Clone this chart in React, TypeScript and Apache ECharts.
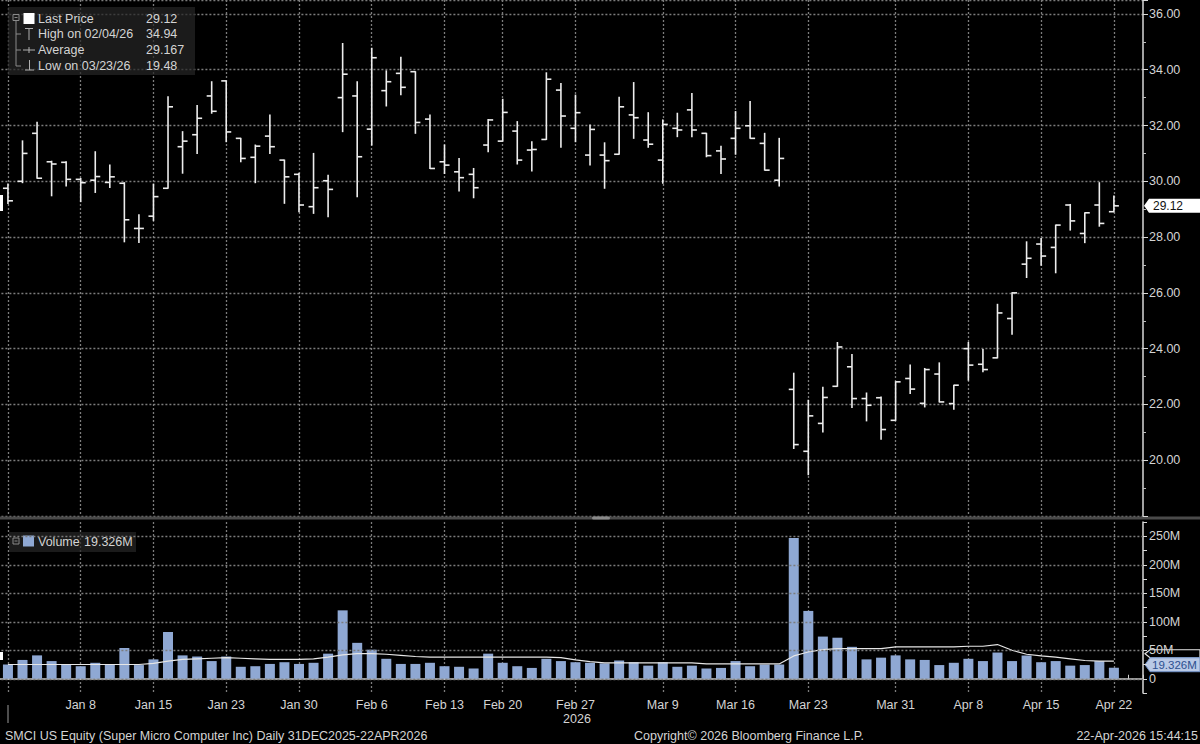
import React, { useEffect, useRef } from 'react';
import * as echarts from 'echarts';

const DATES = [
  'Dec 31', 'Jan 2', 'Jan 5', 'Jan 6', 'Jan 7', 'Jan 8', 'Jan 9',
  'Jan 12', 'Jan 13', 'Jan 14', 'Jan 15', 'Jan 16',
  'Jan 20', 'Jan 21', 'Jan 22', 'Jan 23',
  'Jan 26', 'Jan 27', 'Jan 28', 'Jan 29', 'Jan 30',
  'Feb 2', 'Feb 3', 'Feb 4', 'Feb 5', 'Feb 6',
  'Feb 9', 'Feb 10', 'Feb 11', 'Feb 12', 'Feb 13',
  'Feb 17', 'Feb 18', 'Feb 19', 'Feb 20',
  'Feb 23', 'Feb 24', 'Feb 25', 'Feb 26', 'Feb 27',
  'Mar 2', 'Mar 3', 'Mar 4', 'Mar 5', 'Mar 6',
  'Mar 9', 'Mar 10', 'Mar 11', 'Mar 12', 'Mar 13',
  'Mar 16', 'Mar 17', 'Mar 18', 'Mar 19', 'Mar 20',
  'Mar 23', 'Mar 24', 'Mar 25', 'Mar 26', 'Mar 27',
  'Mar 30', 'Mar 31', 'Apr 1', 'Apr 2',
  'Apr 6', 'Apr 7', 'Apr 8', 'Apr 9', 'Apr 10',
  'Apr 13', 'Apr 14', 'Apr 15', 'Apr 16', 'Apr 17',
  'Apr 20', 'Apr 21', 'Apr 22',
];

const OPEN = [
  29.75, 30.0, 31.72, 30.7, 30.68, 30.07, 30.04,
  29.96, 29.93, 28.31, 28.75, 29.75,
  31.24, 31.67, 33.06, 33.6,
  31.54, 30.86, 31.62, 30.76, 30.25,
  29.09, 30.02, 33.0, 33.06, 31.87,
  33.25, 33.87, 33.93, 32.23, 30.7,
  30.34, 30.25, 31.3, 31.44,
  31.8, 31.12, 31.5, 33.27, 31.9,
  30.94, 30.94, 30.97, 32.38, 31.48,
  30.76, 31.9, 32.56, 31.72, 31.09,
  31.54, 31.99, 31.36, 30.04, 22.54,
  20.32, 21.32, 22.65, 23.35, 22.21,
  22.24, 21.43, 22.93, 22.04,
  23.09, 22.03, 24.0, 23.44, 23.67,
  25.08, 27.03, 27.75, 27.63, 29.15,
  28.13, 29.15, 28.91,
];
const HIGH = [
  29.9, 31.45, 32.12, 30.72, 30.7, 30.1, 31.06,
  30.58, 29.95, 28.8, 29.9, 33.03,
  31.78, 32.72, 33.57, 33.6,
  31.54, 31.3, 32.38, 30.76, 30.29,
  31.0, 30.22, 34.94, 33.57, 34.77,
  33.96, 34.45, 33.93, 32.38, 31.3,
  30.82, 30.46, 32.22, 32.94,
  32.14, 31.42, 33.89, 33.51, 33.09,
  32.02, 31.38, 33.01, 33.54, 32.46,
  32.2, 32.44, 33.15, 31.72, 31.26,
  32.5, 32.86, 31.72, 31.54, 23.12,
  22.15, 22.62, 24.22, 23.79, 22.41,
  22.27, 22.81, 23.41, 23.29,
  23.49, 22.69, 24.22, 23.97, 25.59,
  26.0, 27.83, 27.95, 28.43, 29.17,
  28.87, 29.95, 29.47,
];
const LOW = [
  29.2, 29.95, 30.11, 29.48, 29.83, 29.27, 29.6,
  29.78, 27.83, 27.81, 28.6, 29.75,
  30.29, 31.0, 32.44, 31.42,
  30.7, 29.95, 31.0, 29.21, 28.91,
  28.85, 28.73, 31.78, 29.45, 31.3,
  32.7, 33.1, 31.72, 30.46, 30.28,
  29.65, 29.41, 31.06, 31.44,
  30.62, 30.37, 31.5, 31.22, 31.42,
  30.58, 29.75, 30.97, 31.54, 31.22,
  29.93, 31.6, 31.6, 30.88, 30.28,
  30.97, 31.54, 30.4, 29.83, 20.42,
  19.48, 21.01, 22.65, 21.89, 21.41,
  20.75, 21.43, 22.39, 21.91,
  22.09, 21.83, 22.87, 23.17, 23.67,
  24.52, 26.55, 26.99, 26.72, 28.25,
  27.8, 28.39, 28.91,
];
const CLOSE = [
  29.3, 31.0, 30.11, 30.62, 30.07, 29.95, 30.17,
  30.16, 28.62, 28.31, 29.45, 32.67,
  31.44, 32.26, 32.51, 31.77,
  30.82, 31.26, 31.24, 30.16, 29.15,
  29.77, 29.71, 33.84, 30.88, 34.43,
  33.57, 33.37, 32.11, 30.46, 30.58,
  30.13, 29.77, 32.2, 32.47,
  30.76, 31.14, 33.66, 32.34, 32.46,
  31.86, 30.74, 32.67, 32.28, 31.33,
  32.04, 31.84, 31.84, 30.92, 30.8,
  31.9, 31.54, 30.4, 30.82, 20.56,
  21.59, 22.25, 24.06, 22.21, 21.97,
  21.1, 22.81, 22.55, 23.25,
  22.09, 22.69, 23.41, 23.25, 25.28,
  26.0, 27.24, 27.32, 28.43, 28.58,
  28.87, 28.49, 29.12,
];

// volume, millions of shares
const VOLUME_M = [
  25, 33, 41, 31, 25, 22, 28,
  25, 54, 24, 34, 82,
  41, 39, 31, 39,
  21, 22, 26, 29, 26,
  28, 44, 120, 63, 51,
  35, 26, 26, 28, 22,
  21, 18, 44, 28,
  22, 19, 35, 31, 29,
  28, 27, 32, 29, 23,
  29, 21, 23, 18, 19,
  31, 22, 25, 25, 247,
  119, 74, 72, 56, 34,
  37, 41, 34, 33,
  24, 28, 35, 31, 46,
  31, 41, 29, 31, 23,
  24, 31, 19.326,
];
const VOLUME_AVG_M = [
  25, 25, 25, 25, 25, 25, 25,
  25, 25, 25, 27, 31,
  34, 35, 36, 37,
  36, 35, 34, 34, 34,
  35, 38, 42, 44, 44,
  43, 41, 39, 38, 38,
  38, 38, 38, 38,
  38, 38, 38, 37, 33,
  30, 28, 28, 28, 28,
  28, 28, 28, 26, 26,
  26, 26, 26, 26, 40,
  47, 51, 53, 53, 53,
  53, 56, 56, 56,
  56, 56, 57, 57, 60,
  50, 43, 40, 38, 35,
  32, 31, 31,
];

const TICK_LABELS = ['Jan 8', 'Jan 15', 'Jan 23', 'Jan 30', 'Feb 6', 'Feb 13', 'Feb 20', 'Feb 27',
  'Mar 9', 'Mar 16', 'Mar 23', 'Mar 31', 'Apr 8', 'Apr 15', 'Apr 22'];
const GRID_DATES = ['Dec 31', ...TICK_LABELS];
const PRICE_TICKS = [20, 22, 24, 26, 28, 30, 32, 34, 36];
const VOLUME_TICKS_M = [0, 50, 100, 150, 200, 250];
const LAST_PRICE = 29.12;
const LAST_VOLUME_M = 19.326;
const LEGEND_ROWS = [
  ['Last Price', '29.12'],
  ['High on 02/04/26', '34.94'],
  ['Average', '29.167'],
  ['Low on 03/23/26', '19.48'],
];

const FONT = "'Liberation Sans', Arial, sans-serif";
const FG = '#d4d4d4';
const GRID_C = '#7c7c7c';
const BAR_C = '#8fa8d3';

export default function App() {
  const ref = useRef<HTMLDivElement>(null);

  useEffect(() => {
    const chart = echarts.init(ref.current!, null, { renderer: 'svg' });
    const labelIdx = new Set(TICK_LABELS.map((d) => DATES.indexOf(d)));
    const gridIdx = new Set(GRID_DATES.map((d) => DATES.indexOf(d)));
    const dotted = { color: GRID_C, type: [2, 2], width: 1.3 };
    const xCommon = { type: 'category', data: DATES, min: -1, max: 77.7, boundaryGap: false };

    const option: any = {
      animation: false,
      backgroundColor: '#000',
      textStyle: { fontFamily: FONT },
      grid: [
        { left: -6.6, right: 57, top: 0, height: 516, containLabel: false, outerBoundsMode: 'none' },
        { left: -6.6, right: 57, top: 522, height: 171, containLabel: false, outerBoundsMode: 'none' },
      ],
      xAxis: [
        {
          ...xCommon, gridIndex: 0,
          axisLine: { show: false }, axisTick: { show: false }, axisLabel: { show: false },
          splitLine: { show: true, interval: (i: number) => gridIdx.has(i), lineStyle: dotted },
        },
        {
          ...xCommon, gridIndex: 1,
          axisLine: { show: true, lineStyle: { color: '#cfcfcf', width: 1.5 } },
          axisTick: { show: true, interval: 0, inside: true, length: 4, lineStyle: { color: '#cfcfcf' } },
          axisLabel: {
            show: true, interval: (i: number) => labelIdx.has(i), color: FG, fontSize: 12.5,
            fontFamily: FONT, margin: 5,
          },
          splitLine: { show: true, interval: (i: number) => gridIdx.has(i), lineStyle: dotted },
        },
      ],
      yAxis: [
        {
          type: 'value', gridIndex: 0, position: 'right', min: 18, max: 36.5, interval: 2,
          axisLine: { show: true, lineStyle: { color: '#d8d8d8', width: 1.5 } },
          axisTick: { show: true, length: 5, lineStyle: { color: '#d8d8d8' } },
          minorTick: { show: true, splitNumber: 2, length: 3, lineStyle: { color: '#bdbdbd' } },
          axisLabel: {
            color: FG, fontSize: 12.5, fontFamily: FONT, margin: 6,
            formatter: (v: number) => (PRICE_TICKS.includes(v) ? v.toFixed(2) : ''),
          },
          splitLine: { show: true, lineStyle: dotted },
        },
        {
          type: 'value', gridIndex: 1, position: 'right', min: -25e6, max: 275e6, interval: 25e6,
          axisLine: { show: true, lineStyle: { color: '#d8d8d8', width: 1.5 } },
          axisTick: { show: true, length: 4, lineStyle: { color: '#d8d8d8' } },
          axisLabel: {
            color: FG, fontSize: 12.5, fontFamily: FONT, margin: 6,
            formatter: (v: number) => {
              const m = Math.round(v / 1e6);
              if (!VOLUME_TICKS_M.includes(m)) return '';
              return m === 0 ? '0' : m + 'M';
            },
          },
          splitLine: { show: false },
        },
      ],
      series: [
        {
          type: 'custom', name: 'Price', xAxisIndex: 0, yAxisIndex: 0,
          data: DATES.map((d, i) => [i, OPEN[i], HIGH[i], LOW[i], CLOSE[i]]),
          encode: { x: 0, y: [1, 2, 3, 4] },
          renderItem: (params: any, api: any) => {
            const x = api.value(0);
            const o = api.coord([x, api.value(1)]);
            const h = api.coord([x, api.value(2)]);
            const l = api.coord([x, api.value(3)]);
            const c = api.coord([x, api.value(4)]);
            const t = 5;
            const style = { stroke: '#ededed', lineWidth: 1.6 };
            return {
              type: 'group',
              children: [
                { type: 'line', shape: { x1: h[0], y1: h[1] - 0.5, x2: l[0], y2: l[1] + 0.5 }, style },
                { type: 'line', shape: { x1: o[0] - t, y1: o[1], x2: o[0], y2: o[1] }, style },
                { type: 'line', shape: { x1: c[0], y1: c[1], x2: c[0] + t, y2: c[1] }, style },
              ],
            };
          },
        },
        {
          type: 'bar', name: 'Volume', xAxisIndex: 1, yAxisIndex: 1,
          data: VOLUME_M.map((v) => v * 1e6),
          barWidth: 10,
          itemStyle: { color: BAR_C },
          markLine: {
            silent: true, symbol: 'none', label: { show: false },
            lineStyle: { color: GRID_C, type: [2, 2], width: 1.3 },
            data: VOLUME_TICKS_M.map((v) => ({ yAxis: v * 1e6 })),
          },
          z: 3,
        },
        {
          type: 'line', name: 'Volume avg', xAxisIndex: 1, yAxisIndex: 1,
          data: VOLUME_AVG_M.map((v) => v * 1e6),
          symbol: 'none', lineStyle: { color: '#e6e6e6', width: 1.2 }, z: 4,
        },
      ],
    };
    chart.setOption(option);

    const yp = chart.convertToPixel({ yAxisIndex: 0 }, LAST_PRICE) as number;
    const yv = (chart.convertToPixel({ yAxisIndex: 1 }, LAST_VOLUME_M * 1e6) as number) - 3;
    const txt = (text: string, x: number, y: number, extra: any = {}) => ({
      type: 'text', x, y, silent: true,
      style: { text, fill: FG, fontSize: 12.5, fontFamily: FONT, verticalAlign: 'middle', align: 'left', ...extra },
    });
    const ln = (x1: number, y1: number, x2: number, y2: number, stroke = '#8a8a8a', w = 1) => ({
      type: 'line', silent: true, shape: { x1, y1, x2, y2 }, style: { stroke, lineWidth: w },
    });
    const rowsY = [18.5, 34, 50, 65.5];

    const graphic: any[] = [
      // price legend box
      { type: 'rect', shape: { x: 8, y: 7, width: 187, height: 68 }, style: { fill: 'rgba(38,38,38,0.72)' }, silent: true },
      { type: 'rect', shape: { x: 13, y: 14.5, width: 6, height: 6 }, style: { fill: 'none', stroke: '#8a8a8a', lineWidth: 1 }, silent: true },
      ln(14.5, 17.5, 17.5, 17.5),
      ln(16, 21, 16, 66),
      ln(16, 34, 21, 34), ln(16, 50, 21, 50), ln(16, 66, 21, 66),
      { type: 'rect', shape: { x: 23.5, y: 13, width: 11, height: 11 }, style: { fill: '#ffffff' }, silent: true },
      ln(25, 28.5, 33, 28.5, '#b0b0b0'), ln(29, 28.5, 29, 40, '#b0b0b0'),
      ln(23, 50, 35, 50, '#b0b0b0'), ln(29, 47, 29, 53, '#b0b0b0'),
      ln(29.5, 60, 29.5, 70, '#b0b0b0'), ln(25, 70, 34, 70, '#b0b0b0'),
      ...LEGEND_ROWS.map((r, i) => txt(r[0], 38, rowsY[i])),
      ...LEGEND_ROWS.map((r, i) => txt(r[1], 146, rowsY[i])),
      // volume legend
      { type: 'rect', shape: { x: 9, y: 532, width: 127, height: 20 }, style: { fill: 'rgba(38,38,38,0.72)' }, silent: true },
      { type: 'rect', shape: { x: 13, y: 538, width: 6, height: 6 }, style: { fill: 'none', stroke: '#8a8a8a', lineWidth: 1 }, silent: true },
      ln(14.5, 541, 17.5, 541),
      { type: 'rect', shape: { x: 23, y: 535.5, width: 11, height: 11 }, style: { fill: BAR_C }, silent: true },
      txt('Volume', 38, 541.5),
      txt(String(LAST_VOLUME_M) + 'M', 84, 541.5),
      // left edge markers
      { type: 'rect', shape: { x: 0, y: 195, width: 3, height: 16 }, style: { fill: '#ffffff' }, silent: true },
      { type: 'rect', shape: { x: 0, y: 652, width: 3, height: 8 }, style: { fill: '#ffffff' }, silent: true },
      // panel separator
      { type: 'rect', shape: { x: 0, y: 516.5, width: 1200, height: 3 }, style: { fill: '#4a4a4a' }, silent: true },
      { type: 'rect', shape: { x: 592, y: 516.5, width: 18, height: 3, r: 1.5 }, style: { fill: '#8a8a8a' }, silent: true },
      // last price tag
      {
        type: 'polygon', silent: true,
        shape: { points: [[1144, yp], [1149, yp - 7], [1200, yp - 7], [1200, yp + 7], [1149, yp + 7]] },
        style: { fill: '#ffffff' },
      },
      txt(LAST_PRICE.toFixed(2), 1153, yp + 0.5, { fill: '#111', fontSize: 12 }),
      // volume tags
      {
        type: 'polygon', silent: true,
        shape: { points: [[1145, yv - 11], [1150, yv - 15], [1200, yv - 15], [1200, yv - 7], [1150, yv - 7]] },
        style: { fill: '#000', stroke: '#e6e6e6', lineWidth: 1.2 },
      },
      {
        type: 'polygon', silent: true,
        shape: { points: [[1145, yv], [1150, yv - 7], [1200, yv - 7], [1200, yv + 7], [1150, yv + 7]] },
        style: { fill: '#b9c9e6', stroke: '#6f8fc4', lineWidth: 1 },
      },
      txt(LAST_VOLUME_M + 'M', 1152, yv + 0.5, { fill: '#2b4f8f', fontSize: 11.5 }),
      // year marker
      ln(8, 705, 8, 723, '#9a9a9a'),
      txt('2026', 577, 719, { align: 'center' }),
      // footer
      txt('SMCI US Equity (Super Micro Computer Inc) Daily 31DEC2025-22APR2026', 5, 736),
      txt('Copyright\u00a9 2026 Bloomberg Finance L.P.', 634, 736),
      txt('22-Apr-2026 15:44:15', 1198, 736, { align: 'right' }),
    ];
    chart.setOption({ graphic });

    return () => chart.dispose();
  }, []);

  return <div ref={ref} style={{ width: 1200, height: 744, position: 'absolute', left: 0, top: 0, background: '#000' }} />;
}
